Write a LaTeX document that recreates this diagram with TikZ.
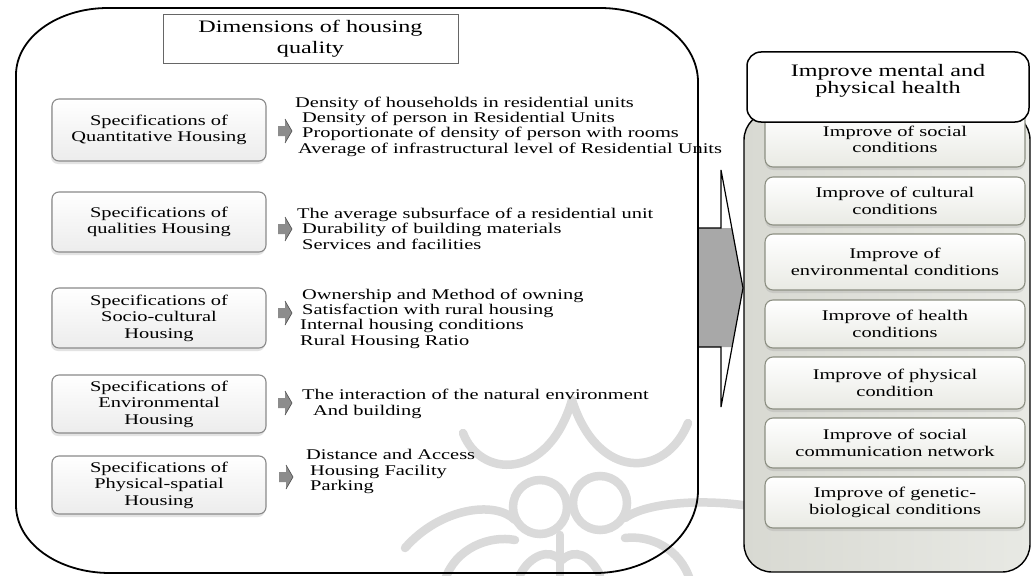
\documentclass[tikz,border=0pt]{standalone}
\usepackage{fontspec}
\setmainfont{Liberation Serif}[FakeStretch=1.38]
\usetikzlibrary{shadows}
\definecolor{wmark}{HTML}{DADADA}
\definecolor{boxline}{HTML}{8A8A8A}
\definecolor{boxbot}{HTML}{ECECEC}
\definecolor{panelL}{HTML}{D8D9D2}
\definecolor{panelR}{HTML}{E8E9E4}
\definecolor{innerline}{HTML}{8C8F82}
\definecolor{innerbot}{HTML}{E9EAE4}
\definecolor{arrowgray}{HTML}{A8A8A8}
\begin{document}
\begin{tikzpicture}[x=1pt,y=-1pt,
  bodytxt/.style={inner sep=0pt, align=left, anchor=west, font=\fontsize{14.8}{15.4}\selectfont},
  specbox/.style={rounded corners=7pt, draw=boxline, line width=1.1pt, top color=white, bottom color=boxbot,
     minimum width=214pt, align=center, inner sep=0pt, font=\fontsize{14.8}{16.6}\selectfont,
     drop shadow={opacity=0.22, shadow xshift=-1pt, shadow yshift=-3pt}},
  innerbox/.style={rounded corners=8pt, draw=innerline, line width=1.1pt, top color=white, bottom color=innerbot,
     minimum width=260pt, align=center, inner sep=0pt, font=\fontsize{14.8}{16.6}\selectfont,
     drop shadow={opacity=0.2, shadow xshift=0pt, shadow yshift=-3pt}},
  wm/.style={draw=wmark, line width=8.5pt, line cap=round},
  sarrow/.pic={
    \fill[black!45] (-7,-5) -- (0,-5) -- (0,-12) -- (7,0) -- (0,12) -- (0,5) -- (-7,5) -- cycle;
    \draw[black!70, line width=0.6pt] (0,-12) -- (7,0) -- (0,12);
  }]
\useasboundingbox (0,0) rectangle (1032,575);
\fill[white] (0,0) rectangle (1032,575);

% watermark ornament
\begin{scope}
\clip (0,0) rectangle (1032,575);
\draw[wm] (463,433) .. controls (480,478) and (548,482) .. (572,400);
\draw[wm] (572,400) .. controls (598,482) and (666,478) .. (688,423);
\draw[wm] (540,507) circle[radius=27];
\draw[wm] (600,503) circle[radius=27];
\draw[wm] (405,548) .. controls (440,508) and (495,500) .. (515,520);
\draw[wm] (625,518) .. controls (650,500) and (720,498) .. (770,510);
\draw[wm] (445,580) .. controls (455,548) and (490,535) .. (515,540);
\draw[wm] (690,580) .. controls (680,548) and (650,535) .. (625,538);
\draw[wm] (560,535) -- (560,580);
\draw[wm] (520,575) .. controls (530,555) and (550,548) .. (560,560);
\draw[wm] (600,575) .. controls (590,555) and (575,548) .. (562,560);
\end{scope}

% outer left container
\draw[line width=1.8pt] (16,75) .. controls (16,38) and (57,8) .. (108,8)
  -- (600,8) .. controls (654,8) and (698,41) .. (698,82)
  -- (698,490) .. controls (698,536) and (652,573) .. (595,573)
  -- (110,573) .. controls (58,573) and (16,543) .. (16,505) -- cycle;

% title
\node[draw=black!60, line width=0.8pt, minimum width=295pt, minimum height=49pt, inner sep=0pt,
  align=center, font=\fontsize{17.5}{21}\selectfont] (title) at (310.5,38.5) {Dimensions of housing\\quality};

% specification boxes
\node[specbox, minimum height=62pt] (s1) at (159,130) {Specifications of\\Quantitative Housing};
\node[specbox, minimum height=60pt] (s2) at (159,222) {Specifications of\\qualities Housing};
\node[specbox, minimum height=60pt] (s3) at (159,318) {Specifications of\\Socio-cultural\\Housing};
\node[specbox, minimum height=58pt] (s4) at (159,404) {Specifications of\\Environmental\\Housing};
\node[specbox, minimum height=58pt] (s5) at (159,485) {Specifications of\\Physical-spatial\\Housing};

% small arrows
\pic at (285,131) {sarrow};
\pic at (285,229) {sarrow};
\pic at (285,313) {sarrow};
\pic at (285,403) {sarrow};
\pic at (286,477) {sarrow};

% lists
\node[bodytxt] (l1) at (295,126.5) {Density of households in residential units\\
  \hspace*{7pt}Density of person in Residential Units\\
  \hspace*{7pt}Proportionate of density of person with rooms\\
  \hspace*{3pt}Average of infrastructural level of Residential Units};
\node[bodytxt] (l2) at (297,228.5) {The average subsurface of a residential unit\\
  \hspace*{5pt}Durability of building materials\\
  \hspace*{5pt}Services and facilities};
\node[bodytxt] (l3) at (300,318.5) {\hspace*{2pt}Ownership and Method of owning\\
  \hspace*{2pt}Satisfaction with rural housing\\
  Internal housing conditions\\
  Rural Housing Ratio};
\node[bodytxt] (l4) at (302,404) {The interaction of the natural environment\\
  \hspace*{11pt}And building};
\node[bodytxt] (l5) at (306,471.5) {Distance and Access\\
  \hspace*{4pt}Housing Facility\\
  \hspace*{4pt}Parking};

% big arrow
\fill[arrowgray] (698,228) -- (721,228) -- (731.8,228) -- (743,288) -- (732.1,347) -- (721,347) -- (698,347) -- cycle;
\draw[line width=1.2pt, line join=miter] (698,228) -- (721,228) -- (721,170) -- (743,288) -- (721,407) -- (721,347) -- (698,347);
\draw[line width=1.8pt] (698,220) -- (698,355);

% right panel
\draw[rounded corners=28pt, line width=1.4pt, left color=panelL, right color=panelR] (744,112) rectangle (1030,572);
\node[innerbox, minimum height=55pt] (i1) at (895,139.5) {Improve of social\\conditions};
\node[innerbox, minimum height=48pt] (i2) at (895,201) {Improve of cultural\\conditions};
\node[innerbox, minimum height=56pt] (i3) at (895,262) {Improve of\\environmental conditions};
\node[innerbox, minimum height=48pt] (i4) at (895,324) {Improve of health\\conditions};
\node[innerbox, minimum height=52pt] (i5) at (895,383) {Improve of physical\\condition};
\node[innerbox, minimum height=50pt] (i6) at (895,443) {Improve of social\\communication network};
\node[innerbox, minimum height=51pt] (i7) at (895,502.5) {Improve of genetic-\\biological conditions};

% header
\node[draw, fill=white, rounded corners=14pt, line width=1.5pt, minimum width=282pt, minimum height=70pt,
  inner sep=0pt] (head) at (888,87) {};
\node[inner sep=0pt, align=center, font=\fontsize{17.5}{17.5}\selectfont] (headtxt) at (888,81) {Improve mental and\\physical health};
\end{tikzpicture}
\end{document}
